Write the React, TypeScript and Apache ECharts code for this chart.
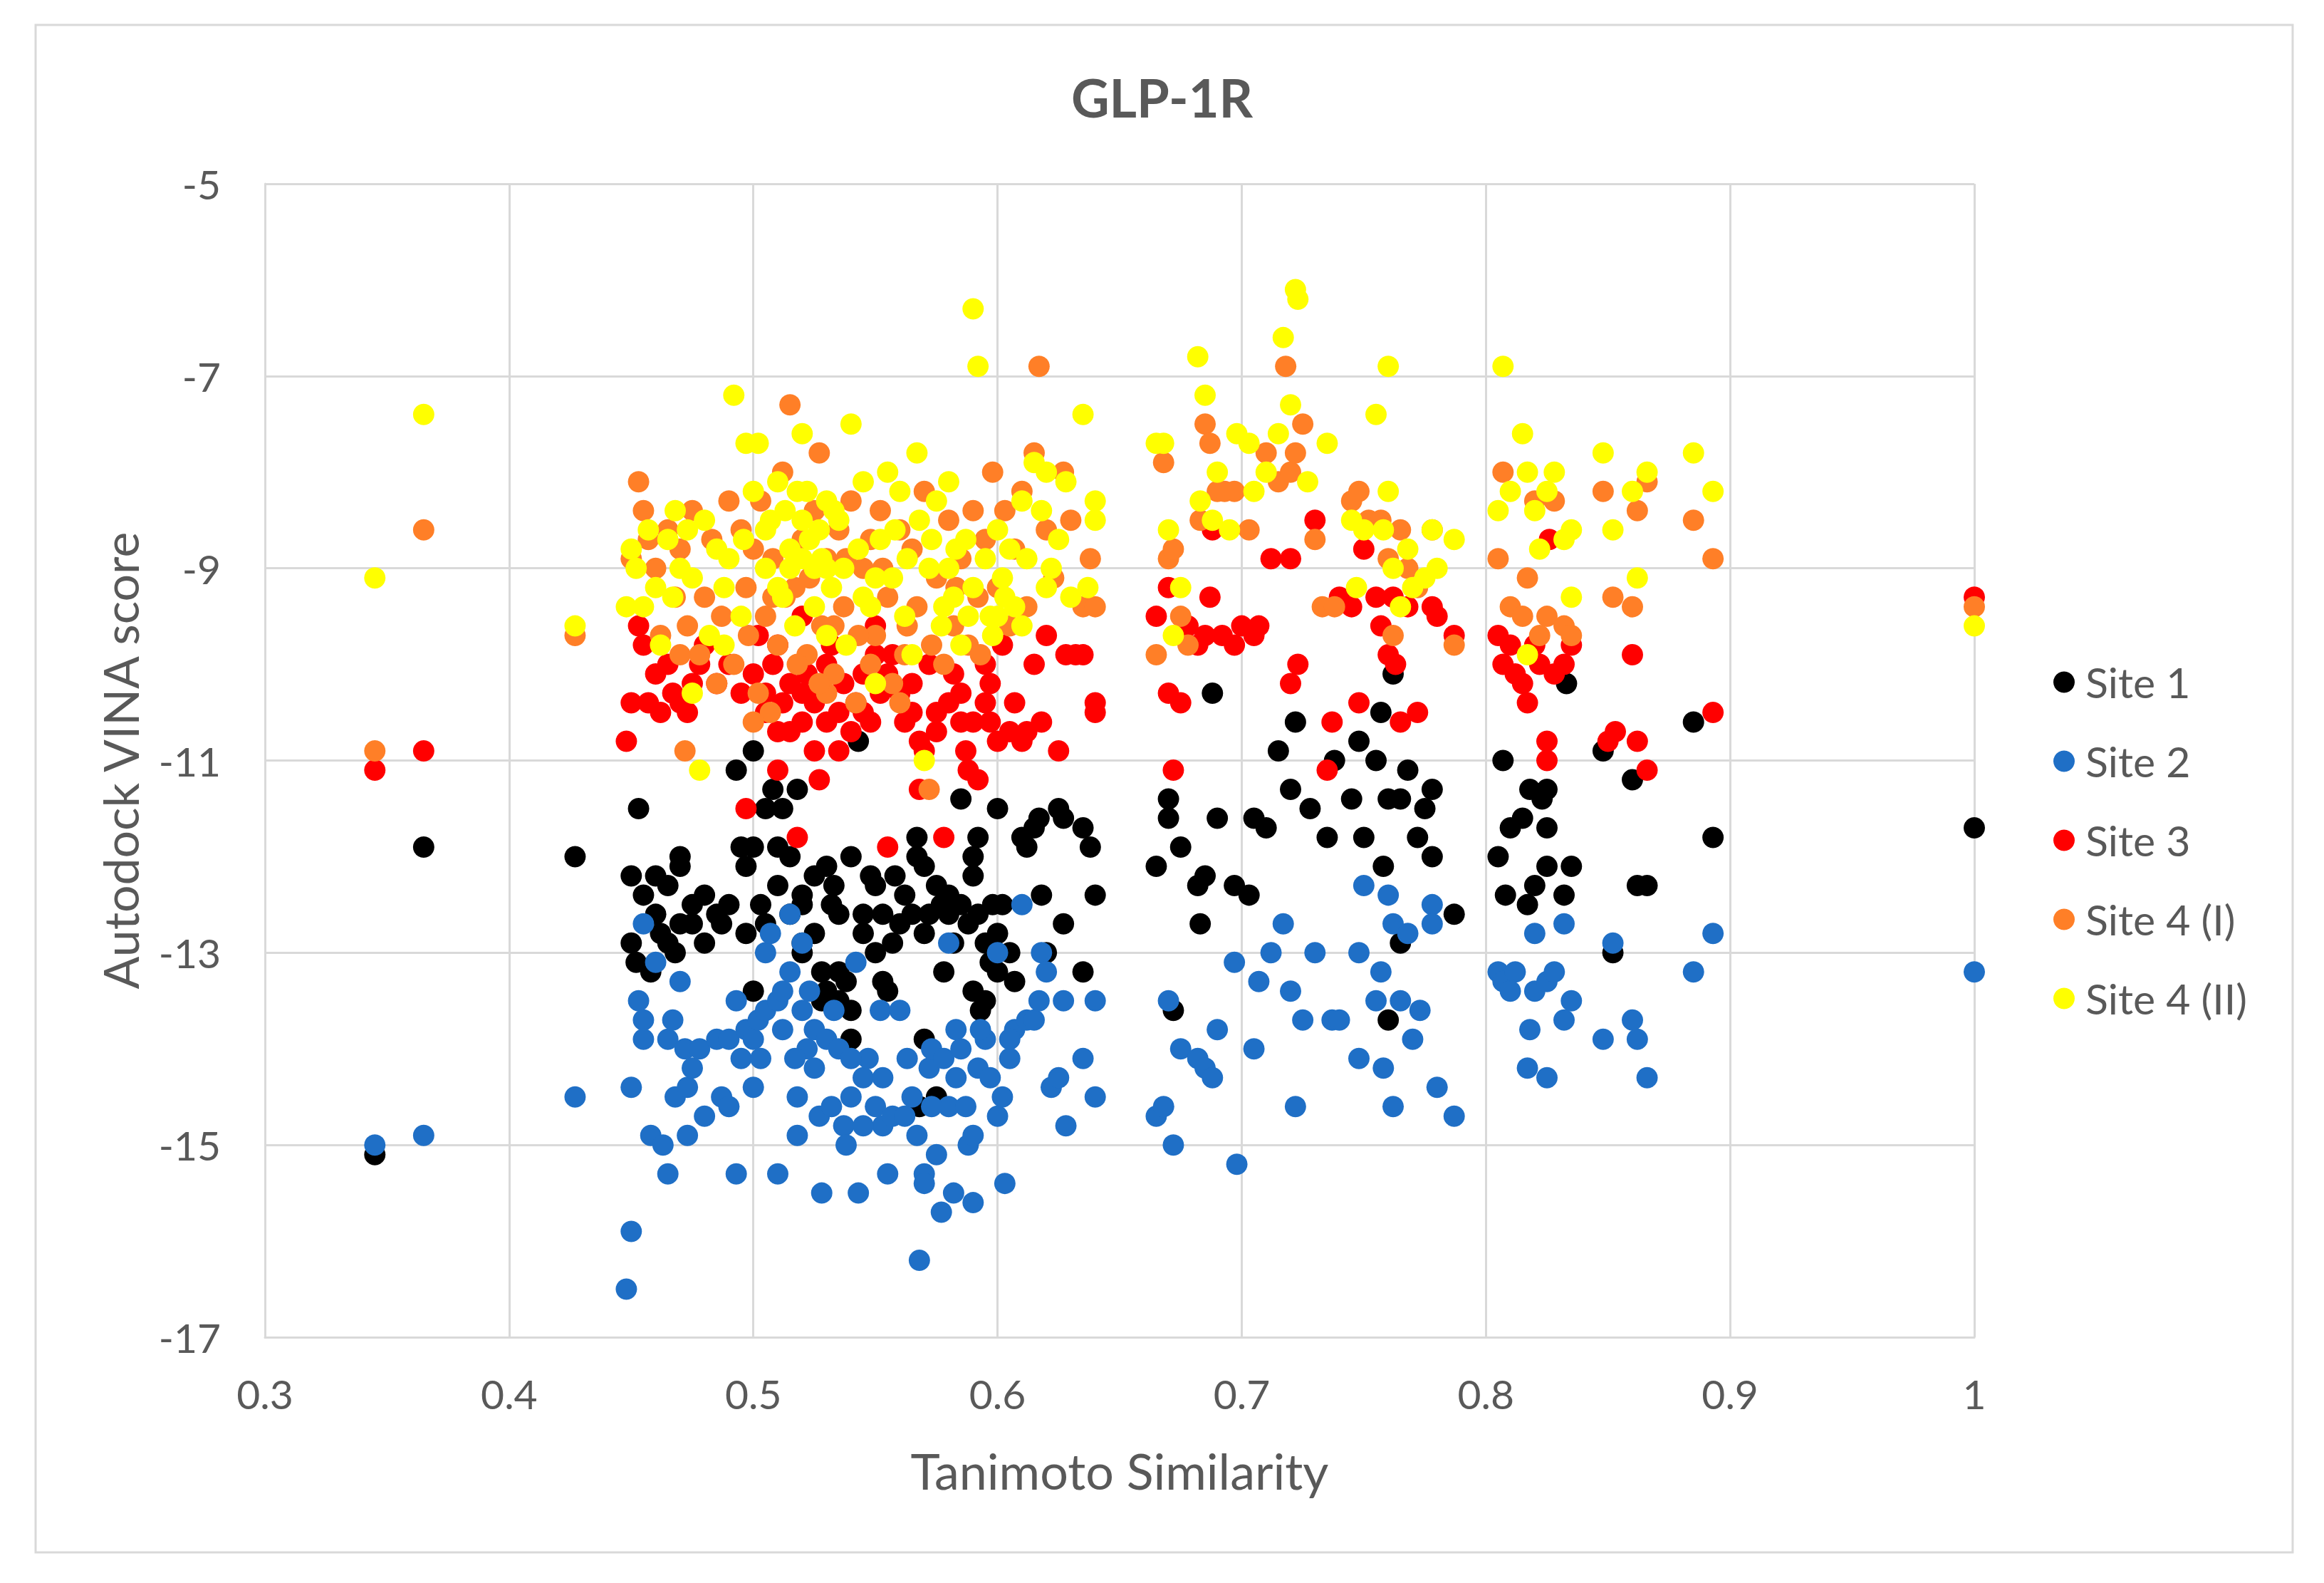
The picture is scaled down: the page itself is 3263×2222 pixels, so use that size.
import React from 'react';
import * as echarts from 'echarts';

const title = 'GLP-1R';
const xName = 'Tanimoto Similarity';
const yName = 'Autodock VINA score';
const seriesNames = ['Site 1', 'Site 2', 'Site 3', 'Site 4 (I)', 'Site 4 (II)'];
const seriesColors = ['#000000', '#1f6fc6', '#ff0000', '#ff7f27', '#ffff00'];

const site1: number[][] = [
  [0.345, -15.1], [0.365, -11.9], [0.427, -12.0], [1.0, -11.7],
  [0.453, -11.5], [0.45, -12.2], [0.455, -12.4], [0.46, -12.2], [0.465, -12.3], [0.47, -12.0],
  [0.47, -12.1], [0.475, -12.5], [0.48, -12.4], [0.485, -12.6], [0.49, -12.5], [0.45, -12.9],
  [0.452, -13.1], [0.458, -13.2], [0.465, -12.9], [0.47, -12.7], [0.468, -13.0], [0.46, -12.6],
  [0.475, -12.7], [0.48, -12.9], [0.493, -11.1], [0.495, -11.9], [0.497, -12.1], [0.5, -10.9],
  [0.5, -11.9], [0.503, -12.5], [0.505, -11.5], [0.508, -11.3], [0.51, -11.9], [0.512, -11.5],
  [0.515, -12.0], [0.518, -11.3], [0.52, -12.4], [0.51, -12.3], [0.505, -12.7], [0.497, -12.8],
  [0.52, -12.5], [0.525, -12.2], [0.53, -12.1], [0.533, -12.3], [0.528, -13.2], [0.53, -13.4],
  [0.535, -13.5], [0.538, -13.3], [0.54, -13.6], [0.54, -13.9], [0.535, -13.2], [0.528, -13.5],
  [0.52, -13.0], [0.515, -12.6], [0.54, -12.0], [0.545, -12.6], [0.545, -12.8], [0.543, -10.8],
  [0.55, -12.3], [0.553, -12.6], [0.553, -13.3], [0.555, -13.4], [0.557, -12.9], [0.56, -12.7],
  [0.562, -12.4], [0.565, -12.6], [0.567, -12.0], [0.567, -11.8], [0.57, -12.1], [0.572, -12.6],
  [0.575, -12.3], [0.577, -12.5], [0.578, -13.2], [0.58, -12.4], [0.58, -12.6], [0.585, -12.5],
  [0.585, -11.4], [0.588, -12.7], [0.59, -12.2], [0.59, -12.0], [0.592, -11.8], [0.592, -12.6],
  [0.595, -12.9], [0.59, -13.4], [0.593, -13.6], [0.597, -13.1], [0.6, -12.8], [0.6, -13.2],
  [0.602, -12.5], [0.605, -13.0], [0.607, -13.3], [0.6, -11.5], [0.61, -11.8], [0.612, -11.9],
  [0.615, -11.7], [0.617, -11.6], [0.618, -12.4], [0.62, -13.0], [0.625, -11.5], [0.627, -11.6],
  [0.627, -12.7], [0.635, -11.7], [0.638, -11.9], [0.64, -12.4], [0.635, -13.2], [0.57, -13.9],
  [0.575, -14.5], [0.568, -14.6], [0.595, -13.5], [0.52, -12.9], [0.5, -13.4],
  [0.525, -12.8], [0.535, -12.6], [0.548, -12.2], [0.558, -12.2], [0.57, -12.8], [0.582, -12.9],
  [0.598, -12.5], [0.532, -12.5], [0.487, -12.7], [0.462, -12.8], [0.55, -13.0],
  [0.665, -12.1], [0.67, -11.4], [0.67, -11.6], [0.675, -11.9], [0.672, -13.6], [0.682, -12.3],
  [0.685, -12.2], [0.683, -12.7], [0.688, -10.3], [0.69, -11.6], [0.697, -12.3], [0.703, -12.4],
  [0.705, -11.6], [0.71, -11.7], [0.715, -10.9], [0.72, -11.3], [0.722, -10.6], [0.728, -11.5],
  [0.735, -11.8], [0.738, -11.0], [0.745, -11.4], [0.748, -10.8], [0.75, -11.8], [0.755, -11.0],
  [0.757, -10.5], [0.758, -12.1], [0.76, -11.4], [0.762, -10.1], [0.765, -11.4], [0.768, -11.1],
  [0.765, -12.9], [0.76, -13.7], [0.772, -11.8], [0.775, -11.5], [0.778, -11.3], [0.778, -12.0],
  [0.787, -12.6], [0.805, -12.0], [0.807, -11.0], [0.808, -12.4], [0.81, -11.7], [0.815, -11.6],
  [0.817, -12.5], [0.818, -11.3], [0.82, -12.3], [0.823, -11.4], [0.825, -11.7], [0.825, -12.1],
  [0.825, -11.3], [0.832, -12.4], [0.833, -10.2], [0.835, -12.1], [0.848, -10.9], [0.852, -13.0],
  [0.86, -11.2], [0.862, -12.3], [0.866, -12.3], [0.885, -10.6], [0.893, -11.8],
];

const site2: number[][] = [
  [0.345, -15.0], [0.365, -14.9], [0.427, -14.5], [1.0, -13.2],
  [0.448, -16.5], [0.45, -15.9], [0.45, -14.4], [0.453, -13.5], [0.455, -13.7], [0.455, -13.9],
  [0.455, -12.7], [0.46, -13.1], [0.458, -14.9], [0.463, -15.0], [0.465, -15.3], [0.465, -13.9],
  [0.467, -13.7], [0.468, -14.5], [0.47, -13.3], [0.472, -14.0], [0.473, -14.4], [0.473, -14.9],
  [0.475, -14.2], [0.478, -14.0], [0.48, -14.7], [0.485, -13.9], [0.487, -14.5], [0.49, -13.9],
  [0.49, -14.6], [0.493, -15.3], [0.493, -13.5], [0.495, -14.1], [0.497, -13.8], [0.5, -13.9],
  [0.502, -13.7], [0.503, -14.1], [0.505, -13.6], [0.505, -13.0], [0.507, -12.8], [0.51, -13.5],
  [0.51, -15.3], [0.512, -13.4], [0.515, -13.2], [0.515, -12.6], [0.518, -14.5], [0.518, -14.9],
  [0.52, -13.6], [0.52, -12.9], [0.522, -14.0], [0.525, -14.2], [0.525, -13.8], [0.527, -14.7],
  [0.528, -15.5], [0.53, -13.9], [0.532, -14.6], [0.535, -14.0], [0.537, -14.8], [0.538, -15.0],
  [0.54, -14.5], [0.542, -13.1], [0.543, -15.5], [0.545, -14.3], [0.547, -14.1], [0.55, -14.6],
  [0.552, -13.6], [0.553, -14.8], [0.555, -15.3], [0.557, -14.7], [0.56, -13.6], [0.562, -14.7],
  [0.565, -14.5], [0.567, -14.9], [0.568, -16.2], [0.57, -15.3], [0.57, -15.4], [0.572, -14.2],
  [0.573, -14.0], [0.575, -15.1], [0.577, -15.7], [0.578, -14.1], [0.58, -14.6], [0.582, -15.5],
  [0.583, -13.8], [0.585, -14.0], [0.587, -14.6], [0.588, -15.0], [0.59, -14.9], [0.59, -15.6],
  [0.592, -14.2], [0.595, -13.9], [0.597, -14.3], [0.6, -13.0], [0.6, -14.7], [0.602, -14.5],
  [0.603, -15.4], [0.605, -14.1], [0.607, -13.8], [0.61, -12.5], [0.612, -13.7], [0.615, -13.7],
  [0.617, -13.5], [0.618, -13.0], [0.62, -13.2], [0.622, -14.4], [0.625, -14.3], [0.627, -13.5],
  [0.628, -14.8], [0.635, -14.1], [0.64, -13.5], [0.64, -14.5], [0.58, -12.9],
  [0.523, -13.4], [0.533, -13.6], [0.54, -14.1], [0.553, -14.3], [0.563, -14.1], [0.583, -14.3],
  [0.593, -13.8], [0.605, -13.9], [0.512, -13.8], [0.517, -14.1], [0.5, -14.4], [0.545, -14.8],
  [0.573, -14.6],
  [0.665, -14.7], [0.668, -14.6], [0.67, -13.5], [0.672, -15.0], [0.675, -14.0], [0.682, -14.1],
  [0.685, -14.2], [0.688, -14.3], [0.69, -13.8], [0.697, -13.1], [0.698, -15.2], [0.705, -14.0],
  [0.707, -13.3], [0.712, -13.0], [0.717, -12.7], [0.72, -13.4], [0.722, -14.6], [0.725, -13.7],
  [0.73, -13.0], [0.737, -13.7], [0.74, -13.7], [0.748, -13.0], [0.748, -14.1], [0.75, -12.3],
  [0.755, -13.5], [0.757, -13.2], [0.758, -14.2], [0.76, -12.4], [0.762, -12.7], [0.762, -14.6],
  [0.765, -13.5], [0.768, -12.8], [0.77, -13.9], [0.773, -13.6], [0.778, -12.5], [0.778, -12.7],
  [0.78, -14.4], [0.787, -14.7], [0.805, -13.2], [0.807, -13.3], [0.81, -13.4], [0.812, -13.2],
  [0.817, -14.2], [0.818, -13.8], [0.82, -12.8], [0.82, -13.4], [0.825, -14.3], [0.825, -13.3],
  [0.828, -13.2], [0.832, -12.7], [0.832, -13.7], [0.835, -13.5], [0.848, -13.9], [0.852, -12.9],
  [0.86, -13.7], [0.862, -13.9], [0.866, -14.3], [0.885, -13.2], [0.893, -12.8],
];

const site3: number[][] = [
  [0.345, -11.1], [0.365, -10.9], [1.0, -9.3],
  [0.448, -10.8], [0.45, -10.4], [0.453, -9.6], [0.455, -9.8], [0.457, -10.4], [0.46, -10.1],
  [0.462, -10.5], [0.465, -10.0], [0.467, -10.3], [0.47, -10.4], [0.473, -10.5], [0.475, -10.2],
  [0.478, -10.0], [0.48, -9.8], [0.485, -10.2], [0.49, -10.0], [0.495, -10.3], [0.497, -11.5],
  [0.5, -10.1], [0.502, -9.7], [0.505, -10.5], [0.508, -10.0], [0.51, -11.1], [0.512, -10.4],
  [0.515, -10.2], [0.518, -11.8], [0.52, -10.6], [0.522, -10.1], [0.525, -10.9], [0.527, -11.2],
  [0.528, -10.3], [0.53, -10.0], [0.532, -9.8], [0.535, -10.5], [0.537, -10.2], [0.54, -10.7],
  [0.542, -10.4], [0.545, -10.1], [0.548, -10.6], [0.55, -9.6], [0.552, -10.3], [0.555, -11.9],
  [0.557, -9.9], [0.56, -10.3], [0.562, -10.6], [0.565, -10.2], [0.568, -10.8], [0.568, -11.3],
  [0.57, -10.9], [0.572, -10.0], [0.575, -10.5], [0.578, -11.8], [0.58, -10.4], [0.582, -10.1],
  [0.585, -10.3], [0.587, -10.9], [0.588, -11.1], [0.59, -10.6], [0.592, -11.2], [0.595, -10.0],
  [0.597, -10.2], [0.6, -10.8], [0.602, -9.8], [0.605, -10.7], [0.607, -10.4], [0.61, -10.8],
  [0.612, -10.7], [0.615, -10.0], [0.618, -10.6], [0.62, -9.7], [0.625, -10.9], [0.628, -9.9],
  [0.632, -9.9], [0.635, -9.9], [0.64, -10.4], [0.64, -10.5], [0.52, -9.5], [0.51, -9.8], [0.55, -9.9],
  [0.515, -10.7], [0.525, -10.4], [0.535, -10.9], [0.545, -10.5], [0.555, -10.1], [0.565, -10.5],
  [0.575, -10.7], [0.585, -10.6], [0.595, -10.4], [0.51, -10.7], [0.53, -10.6], [0.597, -10.6],
  [0.505, -10.3], [0.52, -10.3],
  [0.665, -9.5], [0.67, -9.2], [0.67, -10.3], [0.672, -11.1], [0.675, -10.4], [0.678, -9.6],
  [0.682, -9.8], [0.685, -9.7], [0.687, -9.3], [0.688, -8.6], [0.692, -9.7], [0.697, -9.8],
  [0.7, -9.6], [0.705, -9.7], [0.707, -9.6], [0.712, -8.9], [0.72, -10.2], [0.72, -8.9],
  [0.723, -10.0], [0.73, -8.5], [0.735, -11.1], [0.737, -10.6], [0.74, -9.3], [0.745, -9.4],
  [0.748, -10.4], [0.75, -8.8], [0.755, -9.3], [0.757, -9.6], [0.76, -9.9], [0.762, -9.3],
  [0.763, -10.0], [0.765, -10.6], [0.768, -9.4], [0.772, -10.5], [0.778, -9.4], [0.78, -9.5],
  [0.787, -9.7], [0.805, -9.7], [0.807, -10.0], [0.81, -9.8], [0.812, -10.1], [0.815, -10.2],
  [0.817, -10.4], [0.82, -9.8], [0.822, -10.0], [0.825, -10.8], [0.825, -11.0], [0.826, -8.7],
  [0.828, -10.1], [0.832, -10.0], [0.835, -9.8], [0.85, -10.8], [0.853, -10.7], [0.86, -9.9],
  [0.862, -10.8], [0.866, -11.1], [0.893, -10.5],
];

const site4a: number[][] = [
  [0.345, -10.9], [0.365, -8.6], [0.427, -9.7], [1.0, -9.4],
  [0.45, -8.9], [0.453, -8.1], [0.455, -8.4], [0.457, -8.7], [0.46, -9.0], [0.462, -9.7],
  [0.465, -8.6], [0.468, -9.3], [0.47, -8.8], [0.472, -10.9], [0.473, -9.6], [0.475, -8.4],
  [0.478, -9.9], [0.48, -9.3], [0.483, -8.7], [0.487, -9.5], [0.49, -8.3], [0.492, -10.0],
  [0.495, -8.6], [0.497, -9.2], [0.5, -8.8], [0.502, -10.3], [0.503, -8.3], [0.505, -9.5],
  [0.507, -10.5], [0.508, -8.9], [0.51, -9.8], [0.512, -8.0], [0.515, -7.3], [0.517, -9.2],
  [0.52, -8.7], [0.522, -9.9], [0.525, -8.4], [0.527, -7.8], [0.528, -9.6], [0.53, -8.9],
  [0.533, -10.1], [0.535, -8.6], [0.537, -9.4], [0.54, -8.3], [0.542, -10.4], [0.545, -9.0],
  [0.548, -8.7], [0.55, -9.7], [0.552, -8.4], [0.555, -9.3], [0.557, -10.2], [0.56, -8.6],
  [0.562, -9.9], [0.565, -8.8], [0.567, -9.4], [0.57, -8.2], [0.572, -11.3], [0.575, -9.1],
  [0.578, -10.0], [0.58, -8.5], [0.582, -9.6], [0.585, -8.9], [0.588, -9.8], [0.59, -8.4],
  [0.592, -9.3], [0.595, -8.7], [0.598, -8.0], [0.6, -9.2], [0.603, -8.4], [0.605, -9.6],
  [0.607, -8.8], [0.61, -8.2], [0.612, -9.4], [0.615, -7.8], [0.617, -6.9], [0.62, -8.6],
  [0.623, -9.1], [0.627, -8.0], [0.63, -8.5], [0.635, -9.4], [0.638, -8.9], [0.64, -9.4],
  [0.5, -10.6], [0.53, -10.3], [0.56, -10.4],
  [0.513, -9.3], [0.523, -9.1], [0.527, -10.2], [0.538, -8.9], [0.543, -9.7], [0.553, -9.0],
  [0.563, -9.6], [0.573, -9.8], [0.583, -9.2], [0.593, -9.9], [0.508, -9.3], [0.498, -9.7],
  [0.518, -10.0], [0.548, -10.0], [0.533, -9.6], [0.47, -9.9], [0.485, -10.2],
  [0.665, -9.9], [0.668, -7.9], [0.67, -8.9], [0.672, -8.8], [0.675, -9.5], [0.678, -9.8],
  [0.683, -8.5], [0.685, -7.5], [0.687, -7.7], [0.69, -8.2], [0.693, -8.2], [0.697, -8.2],
  [0.703, -8.6], [0.71, -7.8], [0.715, -8.1], [0.718, -6.9], [0.72, -8.0], [0.722, -7.8],
  [0.725, -7.5], [0.73, -8.7], [0.733, -9.4], [0.738, -9.4], [0.745, -8.3], [0.748, -8.2],
  [0.752, -8.5], [0.757, -8.5], [0.76, -8.9], [0.762, -9.7], [0.765, -8.6], [0.768, -9.0],
  [0.772, -9.2], [0.778, -8.6], [0.787, -9.8], [0.805, -8.9], [0.807, -8.0], [0.81, -9.4],
  [0.815, -9.5], [0.817, -9.1], [0.82, -8.3], [0.822, -9.7], [0.825, -9.5], [0.828, -8.3],
  [0.832, -9.6], [0.835, -9.7], [0.848, -8.2], [0.852, -9.3], [0.86, -9.4], [0.862, -8.4],
  [0.866, -8.1], [0.885, -8.5], [0.893, -8.9],
];

const site4b: number[][] = [
  [0.345, -9.1], [0.365, -7.4], [0.427, -9.6], [1.0, -9.6],
  [0.448, -9.4], [0.45, -8.8], [0.452, -9.0], [0.455, -9.4], [0.457, -8.6], [0.46, -9.2],
  [0.462, -9.8], [0.465, -8.7], [0.467, -9.3], [0.468, -8.4], [0.47, -9.0], [0.473, -8.6],
  [0.475, -10.3], [0.478, -11.1], [0.48, -8.5], [0.482, -9.7], [0.485, -8.8], [0.488, -9.2],
  [0.49, -8.9], [0.492, -7.2], [0.495, -9.5], [0.497, -7.7], [0.5, -8.2], [0.502, -7.7],
  [0.505, -9.0], [0.507, -8.5], [0.51, -8.1], [0.512, -9.3], [0.515, -8.8], [0.517, -9.6],
  [0.52, -7.6], [0.522, -8.2], [0.525, -9.0], [0.527, -8.6], [0.53, -8.3], [0.532, -9.2],
  [0.535, -8.5], [0.538, -9.8], [0.54, -7.5], [0.543, -8.8], [0.545, -8.1], [0.548, -9.4],
  [0.55, -10.2], [0.552, -8.7], [0.555, -8.0], [0.557, -9.1], [0.56, -8.2], [0.562, -9.5],
  [0.565, -9.9], [0.567, -7.8], [0.568, -8.5], [0.57, -11.0], [0.572, -9.0], [0.575, -8.3],
  [0.577, -9.6], [0.58, -8.1], [0.582, -9.3], [0.585, -9.8], [0.587, -8.7], [0.59, -6.3],
  [0.59, -9.2], [0.592, -6.9], [0.595, -8.9], [0.597, -9.5], [0.6, -8.6], [0.602, -9.1],
  [0.605, -8.8], [0.607, -9.4], [0.61, -8.3], [0.612, -8.9], [0.615, -7.9], [0.618, -8.4],
  [0.62, -8.0], [0.622, -9.0], [0.625, -8.7], [0.628, -8.1], [0.63, -9.3], [0.635, -7.4],
  [0.637, -9.2], [0.64, -8.3], [0.64, -8.5], [0.52, -8.9], [0.53, -9.7], [0.51, -9.2],
  [0.55, -9.1], [0.58, -9.0],
  [0.505, -8.6], [0.513, -8.4], [0.518, -8.2], [0.523, -8.7], [0.528, -8.9], [0.533, -8.4],
  [0.537, -9.0], [0.515, -9.0], [0.525, -9.4], [0.545, -9.3], [0.558, -8.6], [0.563, -8.9],
  [0.573, -8.7], [0.578, -9.4], [0.583, -8.8], [0.588, -9.5], [0.598, -9.7], [0.603, -9.3],
  [0.52, -8.5], [0.53, -9.0], [0.496, -8.7], [0.488, -9.8], [0.475, -9.1], [0.6, -9.5],
  [0.61, -9.6], [0.62, -9.2],
  [0.665, -7.7], [0.668, -7.7], [0.67, -8.6], [0.672, -9.7], [0.675, -9.2], [0.682, -6.8],
  [0.683, -8.3], [0.685, -7.2], [0.688, -8.5], [0.69, -8.0], [0.695, -8.6], [0.698, -7.6],
  [0.703, -7.7], [0.705, -8.2], [0.71, -8.0], [0.715, -7.6], [0.717, -6.6], [0.72, -7.3],
  [0.722, -6.1], [0.723, -6.2], [0.727, -8.1], [0.735, -7.7], [0.745, -8.5], [0.747, -9.2],
  [0.75, -8.6], [0.755, -7.4], [0.758, -8.6], [0.76, -6.9], [0.76, -8.2], [0.762, -9.0],
  [0.765, -9.4], [0.768, -8.8], [0.77, -9.2], [0.775, -9.1], [0.778, -8.6], [0.78, -9.0],
  [0.787, -8.7], [0.805, -8.4], [0.807, -6.9], [0.81, -8.2], [0.815, -7.6], [0.817, -8.0],
  [0.82, -8.4], [0.822, -8.8], [0.825, -8.2], [0.828, -8.0], [0.832, -8.7], [0.835, -9.3],
  [0.835, -8.6], [0.848, -7.8], [0.852, -8.6], [0.86, -8.2], [0.862, -9.1], [0.866, -8.0],
  [0.885, -7.8], [0.893, -8.2], [0.817, -9.9],
];

const allSeries = [site1, site2, site3, site4a, site4b];

const FONT = 'Lato, "Noto Sans", sans-serif';
const TEXT_GREY = '#595959';
const GRID_GREY = '#d9d9d9';

export default function App() {
  const chartRef = React.useRef<HTMLDivElement>(null);

  React.useEffect(() => {
    document.body.style.margin = '0';
    if (!chartRef.current) return;
    const chart = echarts.init(chartRef.current, undefined, { renderer: 'svg' });

    const option: echarts.EChartsOption = {
      animation: false,
      backgroundColor: '#ffffff',
      textStyle: { fontFamily: FONT },
      title: {
        text: title,
        left: 'center',
        top: 94,
        textStyle: { fontFamily: FONT, fontSize: 74, fontWeight: 'bold', color: TEXT_GREY },
      },
      graphic: [
        {
          type: 'rect',
          shape: { x: 50, y: 35, width: 3169, height: 2144 },
          style: { fill: 'none', stroke: GRID_GREY, lineWidth: 3 },
          silent: true,
          z: -1,
        },
      ],
      grid: { left: 372, right: 491, top: 258, bottom: 345 },
      legend: {
        orient: 'vertical',
        left: 2878,
        top: 922,
        itemGap: 50,
        itemWidth: 30,
        itemHeight: 30,
        icon: 'circle',
        textStyle: {
          fontFamily: FONT,
          fontSize: 59,
          lineHeight: 61,
          color: TEXT_GREY,
          padding: [0, 0, 0, 10],
        },
        data: seriesNames,
      },
      xAxis: {
        type: 'value',
        min: 0.3,
        max: 1,
        interval: 0.1,
        name: xName,
        nameLocation: 'middle',
        nameGap: 152,
        nameTextStyle: { fontFamily: FONT, fontSize: 70, color: TEXT_GREY },
        axisLine: { show: true, lineStyle: { color: GRID_GREY, width: 3 } },
        axisTick: { show: false },
        axisLabel: {
          fontFamily: FONT,
          fontSize: 57,
          color: TEXT_GREY,
          margin: 50,
          formatter: (v: number) => String(Number(v.toFixed(1))),
        },
        splitLine: { show: true, lineStyle: { color: GRID_GREY, width: 3 } },
      },
      yAxis: {
        type: 'value',
        min: -17,
        max: -5,
        interval: 2,
        name: yName,
        nameLocation: 'middle',
        nameGap: 170,
        nameTextStyle: { fontFamily: FONT, fontSize: 68, color: TEXT_GREY },
        axisLine: { show: true, lineStyle: { color: GRID_GREY, width: 3 } },
        axisTick: { show: false },
        axisLabel: { fontFamily: FONT, fontSize: 57, color: TEXT_GREY, margin: 62 },
        splitLine: { show: true, lineStyle: { color: GRID_GREY, width: 3 } },
      },
      series: allSeries.map((data, i) => ({
        type: 'scatter' as const,
        name: seriesNames[i],
        data,
        symbol: 'circle',
        symbolSize: 30,
        itemStyle: { color: seriesColors[i], opacity: 1 },
      })),
    };

    chart.setOption(option);
    return () => {
      chart.dispose();
    };
  }, []);

  return <div ref={chartRef} style={{ width: '3263px', height: '2222px' }} />;
}
